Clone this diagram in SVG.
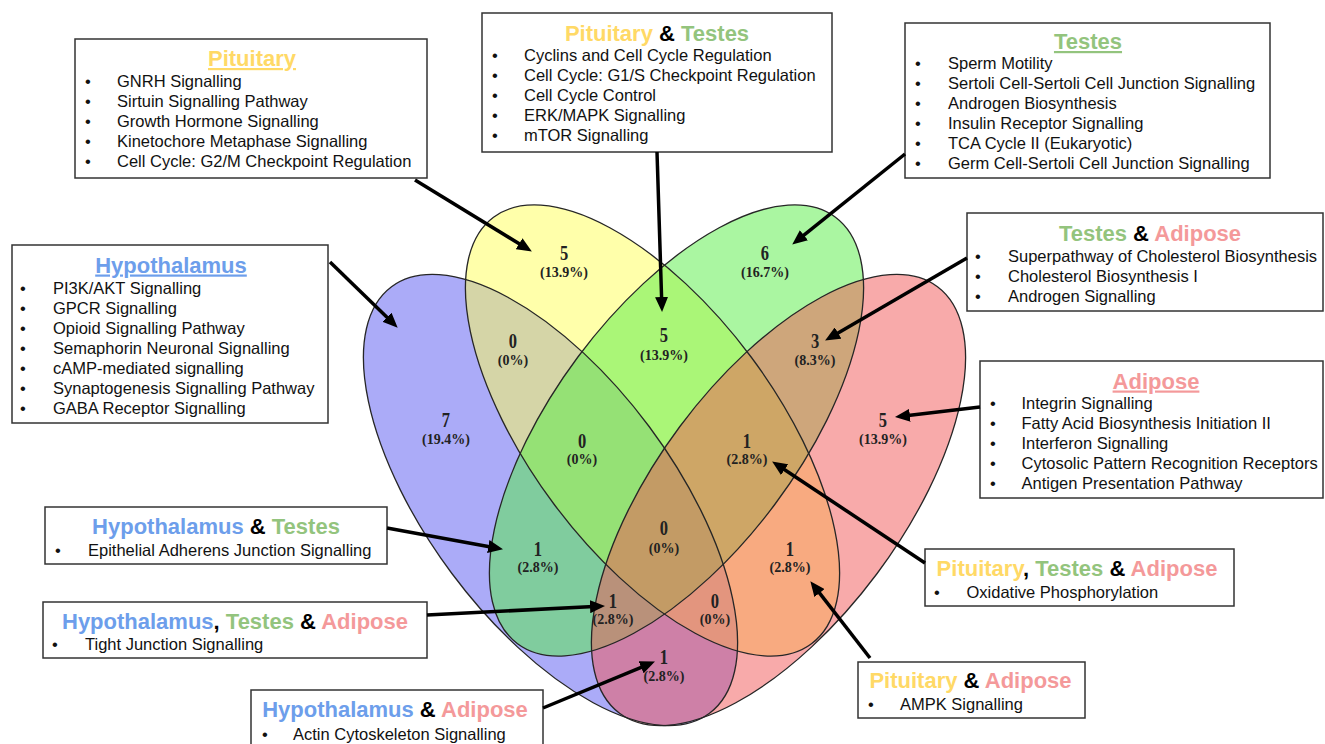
<svg xmlns="http://www.w3.org/2000/svg" width="1325" height="744" viewBox="0 0 1325 744">
<style>
.box{fill:#fff;stroke:#333;stroke-width:1.5}
.ttl{font-family:"Liberation Sans",Arial,sans-serif;font-weight:bold;font-size:22px;text-anchor:middle;fill:#000}
.it{font-family:"Liberation Sans",Arial,sans-serif;font-size:16.5px;fill:#111}
.P{fill:#FFD966}.T{fill:#93C47D}.H{fill:#6D9EEB}.A{fill:#F4999A}
.ul{text-decoration:underline}
.fill{fill-opacity:.5;stroke:none}
.edge{fill:none;stroke:#262626;stroke-width:1.3}
.num{font-family:"Liberation Serif","Times New Roman",serif;font-weight:bold;font-size:16.5px;text-anchor:middle;fill:#222}
.pct{font-family:"Liberation Serif","Times New Roman",serif;font-weight:bold;font-size:14px;text-anchor:middle;fill:#222}
.arr{stroke:#000;stroke-width:3.5;fill:none;marker-end:url(#ah)}
</style>
<defs>
<marker id="ah" markerUnits="userSpaceOnUse" markerWidth="15" markerHeight="13" refX="4" refY="6.5" orient="auto">
<path d="M0,0 L15,6.5 L0,13 z" fill="#000"/>
</marker>
</defs>
<rect width="1325" height="744" fill="#fff"/>
<g id="venn">
<ellipse class="fill" fill="#5757F2" cx="550.5" cy="500" rx="266" ry="123" transform="rotate(53.3 550.5 500)"/>
<ellipse class="fill" fill="#FFFF55" cx="652.5" cy="430.5" rx="266" ry="123" transform="rotate(53.3 652.5 430.5)"/>
<ellipse class="fill" fill="#55EE44" cx="676.5" cy="430.5" rx="266" ry="123" transform="rotate(-53.3 676.5 430.5)"/>
<ellipse class="fill" fill="#F25555" cx="778.5" cy="500" rx="266" ry="123" transform="rotate(-53.3 778.5 500)"/>
<ellipse class="edge" cx="550.5" cy="500" rx="266" ry="123" transform="rotate(53.3 550.5 500)"/>
<ellipse class="edge" cx="652.5" cy="430.5" rx="266" ry="123" transform="rotate(53.3 652.5 430.5)"/>
<ellipse class="edge" cx="676.5" cy="430.5" rx="266" ry="123" transform="rotate(-53.3 676.5 430.5)"/>
<ellipse class="edge" cx="778.5" cy="500" rx="266" ry="123" transform="rotate(-53.3 778.5 500)"/>
</g>
<g id="venn-counts" transform="scale(1 1.3)">
<text class="num" x="564" y="200.2">5</text>
<text class="num" x="765" y="200.2">6</text>
<text class="num" x="664" y="263.3">5</text>
<text class="num" x="513" y="267.9">0</text>
<text class="num" x="815" y="267.9">3</text>
<text class="num" x="446" y="328.7">7</text>
<text class="num" x="883" y="328.7">5</text>
<text class="num" x="582" y="344.8">0</text>
<text class="num" x="747" y="344.8">1</text>
<text class="num" x="664" y="411.8">0</text>
<text class="num" x="538" y="427.9">1</text>
<text class="num" x="790" y="427.9">1</text>
<text class="num" x="613" y="467.9">1</text>
<text class="num" x="715" y="467.9">0</text>
<text class="num" x="664" y="511">1</text>
</g>
<g id="venn-percents">
<text class="pct" x="564" y="276.5">(13.9%)</text>
<text class="pct" x="765" y="276.5">(16.7%)</text>
<text class="pct" x="664" y="359.5">(13.9%)</text>
<text class="pct" x="513" y="364.5">(0%)</text>
<text class="pct" x="815" y="364.5">(8.3%)</text>
<text class="pct" x="446" y="443.5">(19.4%)</text>
<text class="pct" x="883" y="443.5">(13.9%)</text>
<text class="pct" x="582" y="463.5">(0%)</text>
<text class="pct" x="747" y="463.5">(2.8%)</text>
<text class="pct" x="664" y="552.5">(0%)</text>
<text class="pct" x="538" y="571.5">(2.8%)</text>
<text class="pct" x="790" y="571.5">(2.8%)</text>
<text class="pct" x="613" y="623.5">(2.8%)</text>
<text class="pct" x="715" y="623.5">(0%)</text>
<text class="pct" x="664" y="680.5">(2.8%)</text>
</g>
<g id="box-pituitary">
<rect class="box" x="75" y="39" width="352" height="139"/>
<text class="ttl P ul" x="252" y="66">Pituitary</text>
<text class="it" x="85" y="87">•</text><text class="it" x="117" y="87">GNRH Signalling</text>
<text class="it" x="85" y="107">•</text><text class="it" x="117" y="107">Sirtuin Signalling Pathway</text>
<text class="it" x="85" y="127">•</text><text class="it" x="117" y="127">Growth Hormone Signalling</text>
<text class="it" x="85" y="147">•</text><text class="it" x="117" y="147">Kinetochore Metaphase Signalling</text>
<text class="it" x="85" y="167">•</text><text class="it" x="117" y="167">Cell Cycle: G2/M Checkpoint Regulation</text>
</g>
<g id="box-pituitary-testes">
<rect class="box" x="482" y="13" width="350" height="139"/>
<text class="ttl" x="657" y="41"><tspan class="P">Pituitary</tspan> &amp; <tspan class="T">Testes</tspan></text>
<text class="it" x="492" y="60.5">•</text><text class="it" x="524" y="60.5">Cyclins and Cell Cycle Regulation</text>
<text class="it" x="492" y="80.5">•</text><text class="it" x="524" y="80.5">Cell Cycle: G1/S Checkpoint Regulation</text>
<text class="it" x="492" y="100.5">•</text><text class="it" x="524" y="100.5">Cell Cycle Control</text>
<text class="it" x="492" y="120.5">•</text><text class="it" x="524" y="120.5">ERK/MAPK Signalling</text>
<text class="it" x="492" y="140.5">•</text><text class="it" x="524" y="140.5">mTOR Signalling</text>
</g>
<g id="box-testes">
<rect class="box" x="905" y="23" width="365" height="155"/>
<text class="ttl T ul" x="1088" y="49">Testes</text>
<text class="it" x="915" y="69">•</text><text class="it" x="948" y="69">Sperm Motility</text>
<text class="it" x="915" y="89">•</text><text class="it" x="948" y="89">Sertoli Cell-Sertoli Cell Junction Signalling</text>
<text class="it" x="915" y="109">•</text><text class="it" x="948" y="109">Androgen Biosynthesis</text>
<text class="it" x="915" y="129">•</text><text class="it" x="948" y="129">Insulin Receptor Signalling</text>
<text class="it" x="915" y="149">•</text><text class="it" x="948" y="149">TCA Cycle II (Eukaryotic)</text>
<text class="it" x="915" y="169">•</text><text class="it" x="948" y="169">Germ Cell-Sertoli Cell Junction Signalling</text>
</g>
<g id="box-hypothalamus">
<rect class="box" x="12" y="245" width="316" height="178"/>
<text class="ttl H ul" x="171" y="272.5">Hypothalamus</text>
<text class="it" x="20" y="294">•</text><text class="it" x="53" y="294">PI3K/AKT Signalling</text>
<text class="it" x="20" y="314">•</text><text class="it" x="53" y="314">GPCR Signalling</text>
<text class="it" x="20" y="334">•</text><text class="it" x="53" y="334">Opioid Signalling Pathway</text>
<text class="it" x="20" y="354">•</text><text class="it" x="53" y="354">Semaphorin Neuronal Signalling</text>
<text class="it" x="20" y="374">•</text><text class="it" x="53" y="374">cAMP-mediated signalling</text>
<text class="it" x="20" y="394">•</text><text class="it" x="53" y="394">Synaptogenesis Signalling Pathway</text>
<text class="it" x="20" y="414">•</text><text class="it" x="53" y="414">GABA Receptor Signalling</text>
</g>
<g id="box-testes-adipose">
<rect class="box" x="967" y="213" width="356" height="98"/>
<text class="ttl" x="1150" y="241"><tspan class="T">Testes</tspan> &amp; <tspan class="A">Adipose</tspan></text>
<text class="it" x="975" y="262">•</text><text class="it" x="1008" y="262">Superpathway of Cholesterol Biosynthesis</text>
<text class="it" x="975" y="282">•</text><text class="it" x="1008" y="282">Cholesterol Biosynthesis I</text>
<text class="it" x="975" y="302">•</text><text class="it" x="1008" y="302">Androgen Signalling</text>
</g>
<g id="box-adipose">
<rect class="box" x="980" y="361" width="343" height="137"/>
<text class="ttl A ul" x="1156" y="388.5">Adipose</text>
<text class="it" x="990" y="408.5">•</text><text class="it" x="1021.5" y="408.5">Integrin Signalling</text>
<text class="it" x="990" y="428.5">•</text><text class="it" x="1021.5" y="428.5">Fatty Acid Biosynthesis Initiation II</text>
<text class="it" x="990" y="448.5">•</text><text class="it" x="1021.5" y="448.5">Interferon Signalling</text>
<text class="it" x="990" y="468.5">•</text><text class="it" x="1021.5" y="468.5">Cytosolic Pattern Recognition Receptors</text>
<text class="it" x="990" y="488.5">•</text><text class="it" x="1021.5" y="488.5">Antigen Presentation Pathway</text>
</g>
<g id="box-hypothalamus-testes">
<rect class="box" x="45" y="507" width="342" height="57"/>
<text class="ttl" x="216" y="533.5"><tspan class="H">Hypothalamus</tspan> &amp; <tspan class="T">Testes</tspan></text>
<text class="it" x="55" y="555.5">•</text><text class="it" x="88" y="555.5">Epithelial Adherens Junction Signalling</text>
</g>
<g id="box-hypothalamus-testes-adipose">
<rect class="box" x="43" y="602" width="384" height="56"/>
<text class="ttl" x="235" y="628.5"><tspan class="H">Hypothalamus</tspan>, <tspan class="T">Testes</tspan> &amp; <tspan class="A">Adipose</tspan></text>
<text class="it" x="52" y="649.5">•</text><text class="it" x="85" y="649.5">Tight Junction Signalling</text>
</g>
<g id="box-hypothalamus-adipose">
<rect class="box" x="251" y="690" width="292" height="60"/>
<text class="ttl" x="395" y="716.5"><tspan class="H">Hypothalamus</tspan> &amp; <tspan class="A">Adipose</tspan></text>
<text class="it" x="262" y="739.5">•</text><text class="it" x="293" y="739.5">Actin Cytoskeleton Signalling</text>
</g>
<g id="box-pituitary-testes-adipose">
<rect class="box" x="925" y="549" width="309" height="57"/>
<text class="ttl" x="1077" y="576"><tspan class="P">Pituitary</tspan>, <tspan class="T">Testes</tspan> &amp; <tspan class="A">Adipose</tspan></text>
<text class="it" x="934" y="598">•</text><text class="it" x="966.5" y="598">Oxidative Phosphorylation</text>
</g>
<g id="box-pituitary-adipose">
<rect class="box" x="858" y="662" width="227" height="56"/>
<text class="ttl" x="970.5" y="688"><tspan class="P">Pituitary</tspan> &amp; <tspan class="A">Adipose</tspan></text>
<text class="it" x="868" y="709.5">•</text><text class="it" x="900" y="709.5">AMPK Signalling</text>
</g>
<g id="connectors">
<line class="arr" x1="415" y1="180" x2="522.5" y2="245.8"/>
<line class="arr" x1="657" y1="152" x2="661.7" y2="301"/>
<line class="arr" x1="905" y1="154" x2="800.8" y2="237.7"/>
<line class="arr" x1="330" y1="262" x2="389.8" y2="320"/>
<line class="arr" x1="967" y1="258" x2="834.6" y2="335"/>
<line class="arr" x1="980" y1="407" x2="905.9" y2="415.8"/>
<line class="arr" x1="925" y1="563" x2="781.3" y2="467.5"/>
<line class="arr" x1="870" y1="658" x2="817.1" y2="589.9"/>
<line class="arr" x1="387" y1="528" x2="492.2" y2="547.2"/>
<line class="arr" x1="427" y1="615" x2="594" y2="606.5"/>
<line class="arr" x1="543" y1="708" x2="644.8" y2="665.8"/>
</g>
</svg>
